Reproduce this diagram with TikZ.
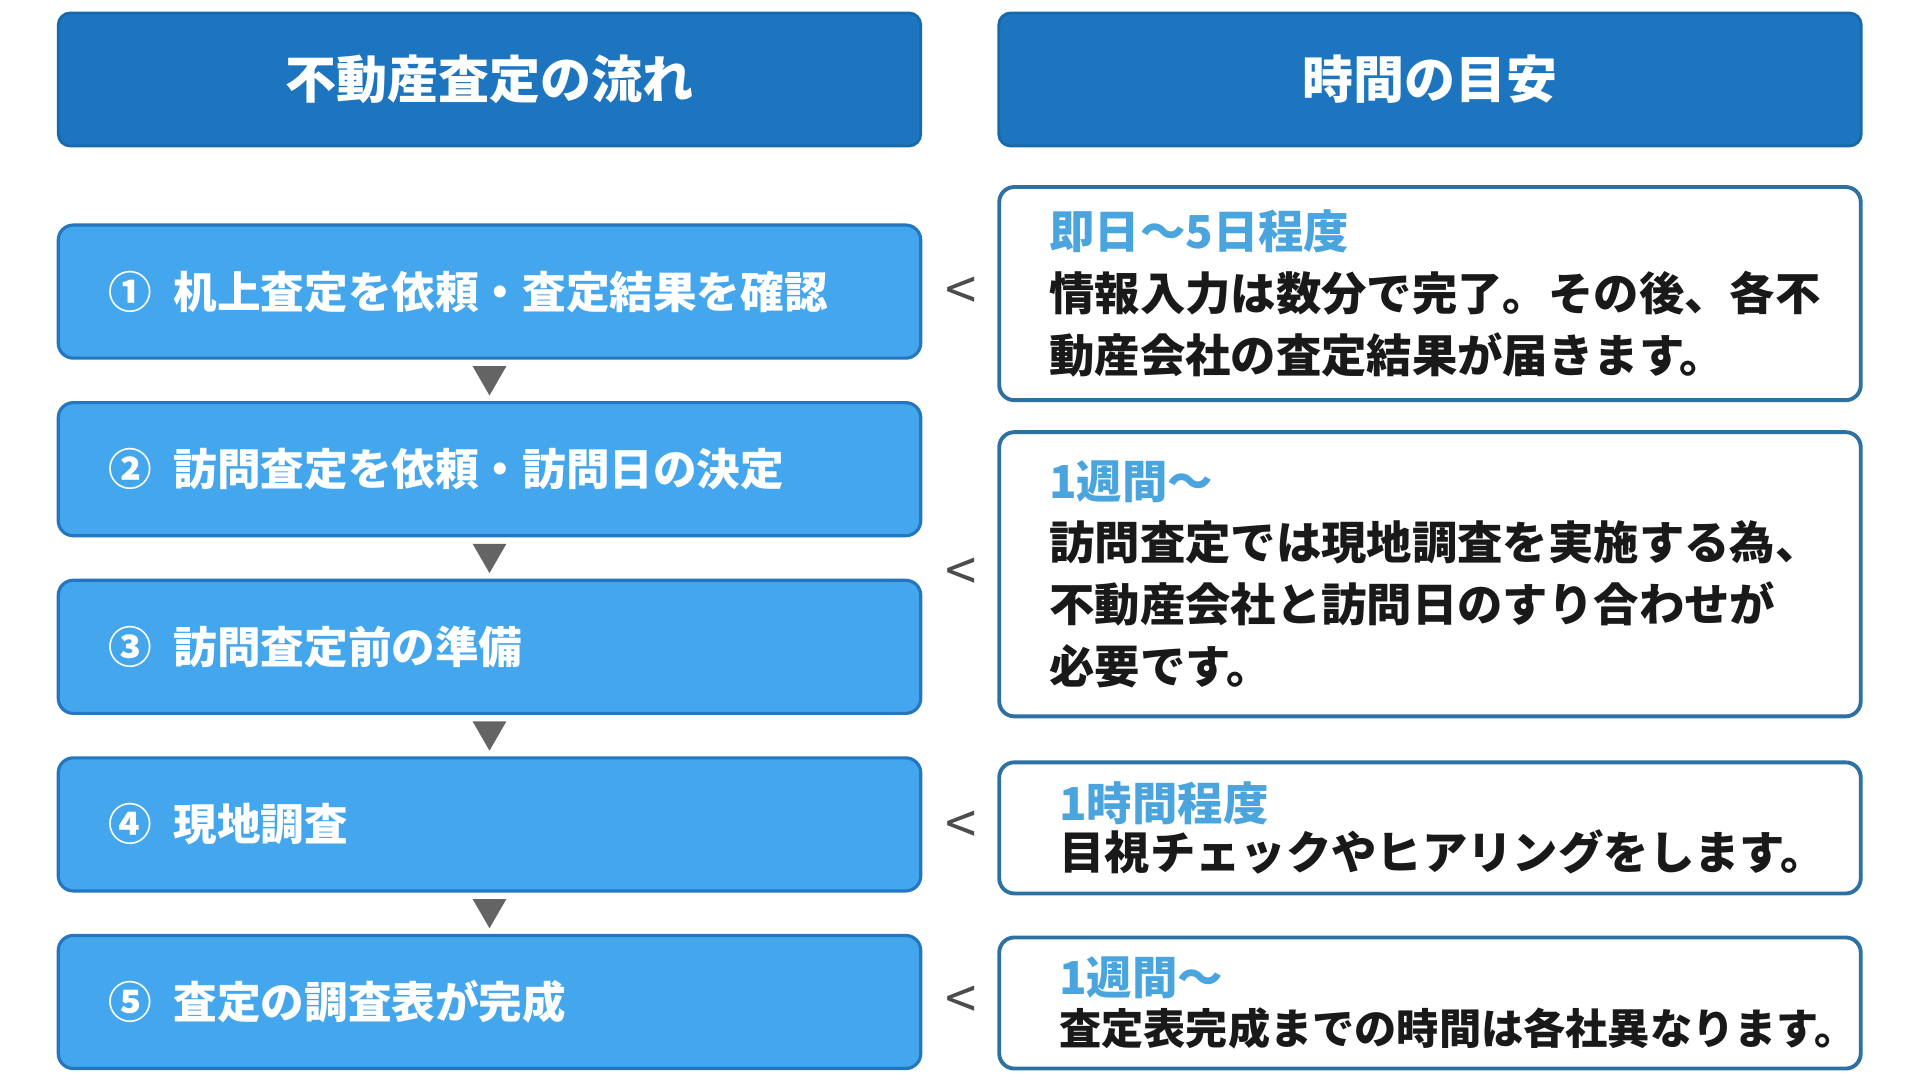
\documentclass[tikz,border=0pt]{standalone}
\usepackage{fontspec}
\setmainfont{Noto Sans CJK JP}
\usetikzlibrary{positioning, calc, shapes.geometric}

\definecolor{hdrblue}{RGB}{28,117,190}
\definecolor{hdredge}{RGB}{24,104,172}
\definecolor{stepblue}{RGB}{68,166,236}
\definecolor{stepedge}{RGB}{36,118,190}
\definecolor{boxedge}{RGB}{45,112,162}
\definecolor{lblblue}{RGB}{74,164,222}
\definecolor{arrgray}{RGB}{100,100,100}

\begin{document}
\begin{tikzpicture}[x=0.01cm, y=0.01cm, node distance=0.445cm,
    header/.style={draw=hdredge, fill=hdrblue, rounded corners=0.12cm, line width=0.8pt,
      minimum width=8.62cm, minimum height=1.33cm, inner sep=0pt, outer sep=0pt,
      text=white, font=\bfseries\fontsize{14.5}{17}\selectfont},
    stepbox/.style={draw=stepedge, fill=stepblue, rounded corners=0.15cm, line width=0.9pt,
      minimum width=8.62cm, minimum height=1.33cm, text width=7.62cm, inner xsep=0.5cm,
      inner ysep=0pt, outer sep=0pt, align=left, text=white,
      font=\bfseries\fontsize{12.4}{15}\selectfont},
    timebox/.style={draw=boxedge, fill=white, rounded corners=0.15cm, line width=1.1pt,
      minimum width=8.61cm, text width=7.61cm, inner xsep=0.5cm, inner ysep=0pt,
      outer sep=0pt, align=left, text=black!90,
      font=\bfseries\fontsize{12.9}{17.6}\selectfont},
    downtip/.style={regular polygon, regular polygon sides=3, shape border rotate=180,
      fill=arrgray, minimum size=0.39cm, inner sep=0pt, outer sep=0pt},
    lessmark/.style={text=black!70, font=\fontsize{16}{16}\selectfont, inner sep=0pt}
  ]
  \useasboundingbox (0,0) rectangle (1920,1080);

  % Column headers
  \node[header] (hflow) at (489.5,1000.5) {不動産査定の流れ};
  \node[header] (htime) at (1430,1000.5) {時間の目安};

  % Steps of the appraisal
  \node[stepbox, below=0.79cm of hflow] (s1) {①\hspace{0.5em}机上査定を依頼・査定結果を確認};
  \node[stepbox, below=of s1] (s2) {②\hspace{0.5em}訪問査定を依頼・訪問日の決定};
  \node[stepbox, below=of s2] (s3) {③\hspace{0.5em}訪問査定前の準備};
  \node[stepbox, below=of s3] (s4) {④\hspace{0.5em}現地調査};
  \node[stepbox, below=of s4] (s5) {⑤\hspace{0.5em}査定の調査表が完成};

  \foreach \a/\b in {s1/s2, s2/s3, s3/s4, s4/s5}
    \node[downtip] (tip-\a) at ($(\a.south)!0.4!(\b.north)$) {};

  % Time needed for each step
  \node[timebox, minimum height=2.13cm, below=0.41cm of htime] (t1)
    {\textcolor{lblblue}{即日～5日程度}\\情報入力は数分で完了。その後、各不\\動産会社の査定結果が届きます。};
  \node[timebox, minimum height=2.84cm, below=0.32cm of t1] (t2)
    {\textcolor{lblblue}{1週間～}\\訪問査定では現地調査を実施する為、\\不動産会社と訪問日のすり合わせが\\必要です。};
  \node[timebox, minimum height=1.31cm, below=0.46cm of t2, inner xsep=0.6cm,
        text width=7.41cm, font=\bfseries\fontsize{12.9}{13.8}\selectfont] (t3)
    {\textcolor{lblblue}{1時間程度}\\目視チェックやヒアリングをします。};
  \node[timebox, minimum height=1.31cm, below=0.44cm of t3, inner xsep=0.6cm,
        text width=7.41cm, font=\bfseries\fontsize{12}{14.2}\selectfont] (t4)
    {\textcolor{lblblue}{\fontsize{12.9}{14.2}\selectfont 1週間～}\\査定表完成までの時間は各社異なります。};

  \foreach \t in {t1, t2, t3, t4}
    \node[lessmark] (lt-\t) at ($(\t.west)+(-38,0)$) {<};
\end{tikzpicture}
\end{document}
